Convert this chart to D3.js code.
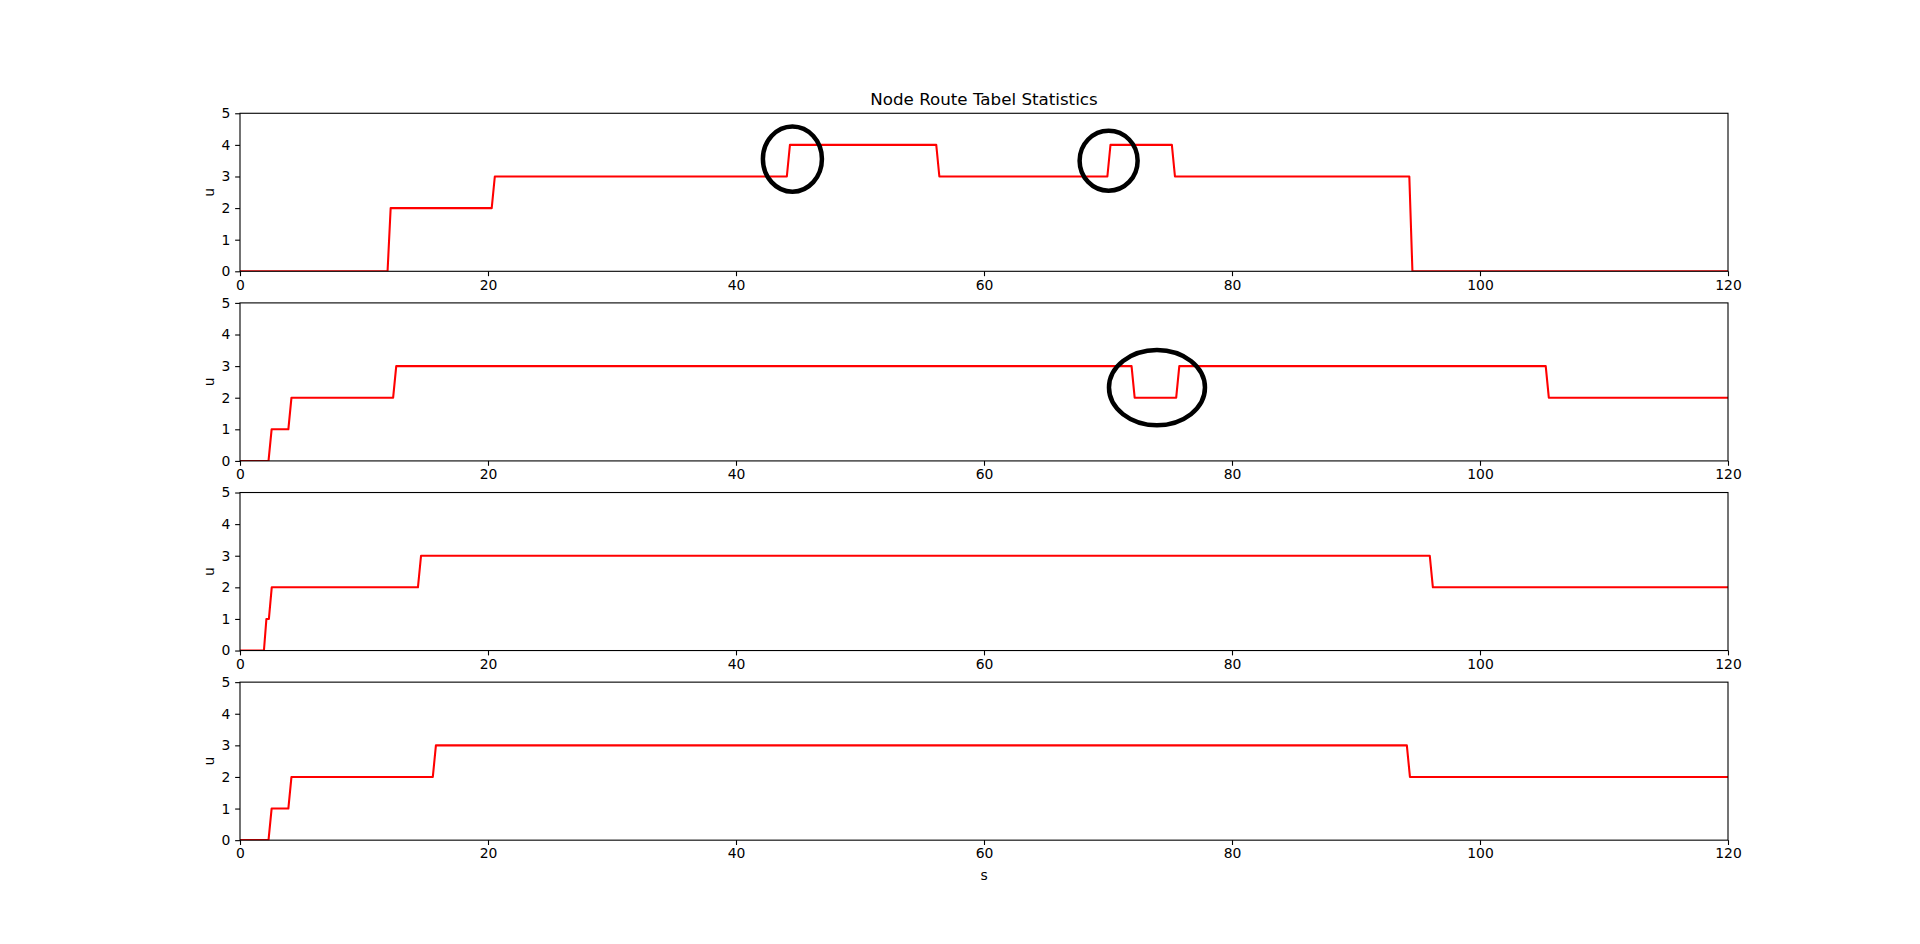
<!DOCTYPE html>
<html>
<head>
<meta charset="utf-8">
<script src="https://cdn.jsdelivr.net/npm/d3@7"></script>
<style>
  html, body { margin: 0; padding: 0; background: #fff; }
  svg { display: block; }
  text { font-family: "DejaVu Sans", sans-serif; fill: #000; }
</style>
</head>
<body>
<svg id="chart" width="1920" height="944"></svg>
<script>
// ---- data ----
const title = "Node Route Tabel Statistics";
const xLabel = "s";
const yLabel = "u";
const xTicks = [0, 20, 40, 60, 80, 100, 120];
const yTicks = [0, 1, 2, 3, 4, 5];

// node 1 samples (time s, value u)
const node1T = [0, 11.9, 12.15, 20.3, 20.55, 44.1, 44.35, 56.15, 56.4, 69.95, 70.2, 75.15, 75.4, 94.3, 94.55, 120];
const node1U = [0, 0, 2, 2, 3, 3, 4, 4, 3, 3, 4, 4, 3, 3, 0, 0];
// node 2
const node2T = [0, 2.3, 2.55, 3.9, 4.15, 12.35, 12.6, 71.9, 72.15, 75.5, 75.75, 105.3, 105.55, 120];
const node2U = [0, 0, 1, 1, 2, 2, 3, 3, 2, 2, 3, 3, 2, 2];
// node 3
const node3T = [0, 1.93, 2.13, 2.33, 2.56, 14.35, 14.6, 95.95, 96.2, 120];
const node3U = [0, 0, 1, 1, 2, 2, 3, 3, 2, 2];
// node 4
const node4T = [0, 2.3, 2.55, 3.9, 4.15, 15.55, 15.8, 94.1, 94.35, 120];
const node4U = [0, 0, 1, 1, 2, 2, 3, 3, 2, 2];

// hand-drawn annotation circles (panel index, centre time, centre value, half-width s, half-height u)
const annPanel = [0, 0, 1];
const annT = [44.55, 70.05, 73.95];
const annU = [3.55, 3.5, 2.32];
const annRT = [2.38, 2.34, 3.87];
const annRU = [1.03, 0.95, 1.19];

const seriesT = [node1T, node2T, node3T, node4T];
const seriesU = [node1U, node2U, node3U, node4U];

// ---- layout (matplotlib-like subplot geometry) ----
const W = 1920, H = 944;
const mLeft = 0.125 * W, mRight = 0.9 * W;
const mTop = (1 - 0.88) * H, mBottom = (1 - 0.11) * H;
const nPanels = 4, hspace = 0.2;
const ph = (mBottom - mTop) / (nPanels + (nPanels - 1) * hspace);
const gap = ph * hspace;

const svg = d3.select("#chart");
const x = d3.scaleLinear().domain([0, 120]).range([mLeft, mRight]);

const FS = 13.9;

for (let i = 0; i < nPanels; i++) {
  const y0 = mTop + i * (ph + gap);
  const y = d3.scaleLinear().domain([0, 5]).range([y0 + ph, y0]);
  const g = svg.append("g");

  const clipId = "clip" + i;
  svg.append("clipPath").attr("id", clipId)
    .append("rect").attr("x", mLeft).attr("y", y0).attr("width", mRight - mLeft).attr("height", ph);

  const pts = seriesT[i].map((t, k) => [t, seriesU[i][k]]);
  const line = d3.line().x(d => x(d[0])).y(d => y(d[1]));
  g.append("path").datum(pts)
    .attr("d", line)
    .attr("fill", "none")
    .attr("stroke", "#ff0000")
    .attr("stroke-width", 2.08)
    .attr("stroke-linejoin", "round")
    .attr("stroke-linecap", "butt")
    .attr("clip-path", `url(#${clipId})`);

  // spines (drawn over the line)
  g.append("rect")
    .attr("x", mLeft).attr("y", y0)
    .attr("width", mRight - mLeft).attr("height", ph)
    .attr("fill", "none").attr("stroke", "#000").attr("stroke-width", 1.1);

  // x axis
  const xa = d3.axisBottom(x).tickValues(xTicks).tickSize(4.86).tickPadding(3.5).tickFormat(d3.format("d"));
  const gx = g.append("g").attr("transform", `translate(0,${y0 + ph})`).call(xa);
  gx.select(".domain").remove();
  gx.selectAll(".tick line").attr("stroke", "#000").attr("stroke-width", 1.1);
  gx.selectAll(".tick text").attr("font-size", FS).attr("font-family", "DejaVu Sans").attr("fill", "#000");

  // y axis
  const ya = d3.axisLeft(y).tickValues(yTicks).tickSize(4.86).tickPadding(4.86).tickFormat(d3.format("d"));
  const gy = g.append("g").attr("transform", `translate(${mLeft},0)`).call(ya);
  gy.select(".domain").remove();
  gy.selectAll(".tick line").attr("stroke", "#000").attr("stroke-width", 1.1);
  gy.selectAll(".tick text").attr("font-size", FS).attr("font-family", "DejaVu Sans").attr("fill", "#000");

  // y label
  g.append("text")
    .attr("transform", `translate(213.5,${y0 + ph / 2}) rotate(-90)`)
    .attr("text-anchor", "middle")
    .attr("font-size", FS)
    .text(yLabel);

  // annotation ellipses in this panel
  annPanel.forEach((p, k) => {
    if (p !== i) return;
    g.append("ellipse")
      .attr("cx", x(annT[k]))
      .attr("cy", y(annU[k]))
      .attr("rx", x(annRT[k]) - x(0))
      .attr("ry", y(0) - y(annRU[k]))
      .attr("fill", "none")
      .attr("stroke", "#000")
      .attr("stroke-width", 4.5);
  });
}

// title
svg.append("text")
  .attr("x", (mLeft + mRight) / 2)
  .attr("y", 104.5)
  .attr("text-anchor", "middle")
  .attr("font-size", 16.7)
  .text(title);

// x label
svg.append("text")
  .attr("x", (mLeft + mRight) / 2)
  .attr("y", 879.5)
  .attr("text-anchor", "middle")
  .attr("font-size", FS)
  .text(xLabel);
</script>
</body>
</html>
